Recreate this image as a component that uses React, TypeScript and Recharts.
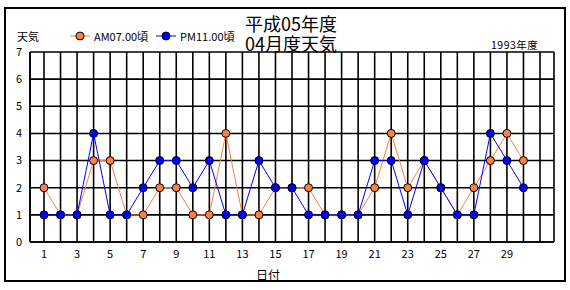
import React from "react";
import {
  CartesianGrid,
  Line,
  LineChart,
  XAxis,
  YAxis,
} from "recharts";

// 日付 1..31（31日はデータなし）
const DAYS = Array.from({ length: 31 }, (_, i) => i + 1);
const AM = [2, 1, 1, 3, 3, 1, 1, 2, 2, 1, 1, 4, 1, 1, 2, 2, 2, 1, 1, 1, 2, 4, 2, 3, 2, 1, 2, 3, 4, 3];
const PM = [1, 1, 1, 4, 1, 1, 2, 3, 3, 2, 3, 1, 1, 3, 2, 2, 1, 1, 1, 1, 3, 3, 1, 3, 2, 1, 1, 4, 3, 2];
const Y_TICKS = [0, 1, 2, 3, 4, 5, 6, 7];
const X_LABELED = [1, 3, 5, 7, 9, 11, 13, 15, 17, 19, 21, 23, 25, 27, 29];

const TITLE = ["平成05年度", "04月度天気"];
const SUBTITLE = "1993年度";
const Y_NAME = "天気";
const X_NAME = "日付";
const AM_NAME = "AM07.00頃";
const PM_NAME = "PM11.00頃";

const ORANGE = "#ff8040";
const BLUE = "#0000ff";
const FONT = "'Noto Sans CJK JP', 'DejaVu Sans', sans-serif";

const data = DAYS.map((d, i) => ({
  day: d,
  am: i < AM.length ? AM[i] : null,
  pm: i < PM.length ? PM[i] : null,
}));

const Dot = (color: string) => (p: any) => {
  if (p.value == null || p.cx == null) return <g key={p.key} />;
  return <circle key={p.key} cx={p.cx} cy={p.cy} r={4} fill={color} stroke="#000" strokeWidth={1} />;
};

function LegendBox() {
  const item = (color: string, label: string) => (
    <span style={{ display: "inline-flex", alignItems: "center", marginRight: 8 }}>
      <svg width={20} height={10} style={{ marginRight: 4 }}>
        <line x1={0} y1={5} x2={20} y2={5} stroke={color} strokeWidth={1} />
        <circle cx={10} cy={5} r={4} fill={color} stroke="#000" strokeWidth={1} />
      </svg>
      {label}
    </span>
  );
  return (
    <div style={{ fontFamily: FONT, fontSize: 11, color: "#000", display: "flex", whiteSpace: "nowrap" }}>
      {item(ORANGE, AM_NAME)}
      {item(BLUE, PM_NAME)}
    </div>
  );
}

export default function App() {
  const titleStyle: React.CSSProperties = {
    position: "absolute",
    left: 191,
    width: 200,
    textAlign: "center",
    fontSize: 18,
    lineHeight: "20px",
    color: "#000",
  };
  return (
    <div style={{ position: "absolute", left: 0, top: 0, width: 570, height: 290, background: "#fff", fontFamily: FONT }}>
      <div
        style={{
          position: "absolute",
          left: 4,
          top: 7,
          width: 562,
          height: 275,
          border: "2px solid #000",
          boxSizing: "border-box",
        }}
      />
      <div style={{ ...titleStyle, top: 13 }}>{TITLE[0]}</div>
      <div style={{ ...titleStyle, top: 33 }}>{TITLE[1]}</div>
      <div style={{ position: "absolute", left: 491, top: 37, fontSize: 10.5, letterSpacing: 0.5 }}>{SUBTITLE}</div>
      <div style={{ position: "absolute", left: 17, top: 28, fontSize: 11 }}>{Y_NAME}</div>
      <div style={{ position: "absolute", left: 70, top: 28 }}>
        <LegendBox />
      </div>
      <LineChart
        width={570}
        height={290}
        data={data}
        margin={{ top: 52, right: 16, bottom: 0, left: 0 }}
        style={{ position: "absolute", left: 0, top: 0 }}
      >
        <CartesianGrid stroke="#000" strokeWidth={1.6} />
        <XAxis
          dataKey="day"
          interval={0}
          padding={{ left: 14, right: 14 }}
          height={48}
          tickLine={false}
          axisLine={{ stroke: "#000", strokeWidth: 1.6 }}
          tick={{ fill: "#000", fontSize: 11, fontFamily: FONT }}
          tickFormatter={(v) => (X_LABELED.includes(v) ? String(v) : "")}
          label={{ value: X_NAME, position: "insideBottom", offset: 10, dx: -24, fill: "#000", fontSize: 12, fontFamily: FONT }}
        />
        <YAxis
          width={30}
          domain={[0, 7]}
          ticks={Y_TICKS}
          tickLine={false}
          axisLine={{ stroke: "#000", strokeWidth: 1.6 }}
          tick={{ fill: "#000", fontSize: 11, fontFamily: FONT }}
        />
        <YAxis
          yAxisId="r"
          orientation="right"
          width={0}
          domain={[0, 7]}
          tick={false}
          tickLine={false}
          axisLine={{ stroke: "#000", strokeWidth: 1.6 }}
        />
        <Line
          dataKey="am"
          stroke={ORANGE}
          strokeWidth={1}
          dot={Dot(ORANGE)}
          activeDot={false}
          isAnimationActive={false}
        />
        <Line
          dataKey="pm"
          stroke={BLUE}
          strokeWidth={1}
          dot={Dot(BLUE)}
          activeDot={false}
          isAnimationActive={false}
        />
      </LineChart>
    </div>
  );
}
